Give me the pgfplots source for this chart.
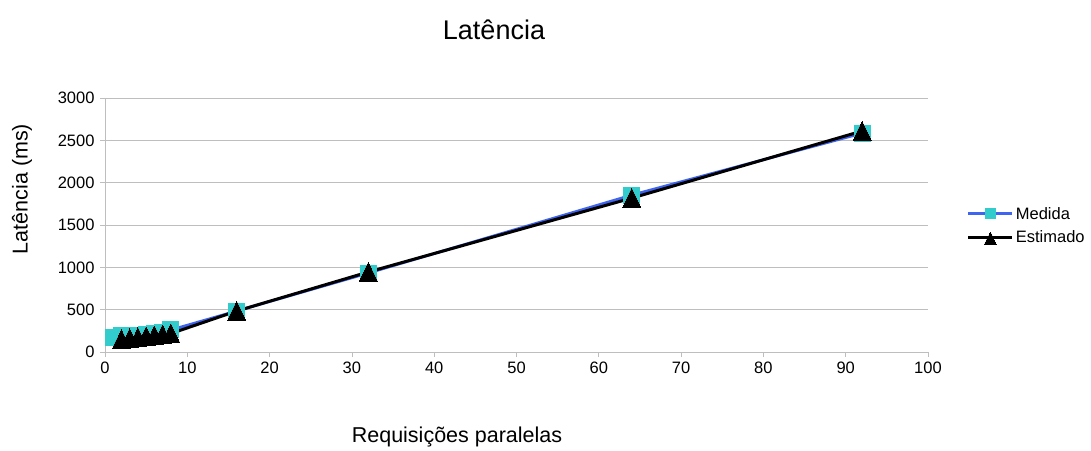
\documentclass[border=0pt]{standalone}
\usepackage{pgfplots}
\pgfplotsset{compat=1.18}
\usepackage{fontspec}
\setmainfont{Liberation Sans}
\definecolor{medline}{HTML}{3F64F0}
\definecolor{medmark}{HTML}{33CCCC}
\definecolor{gridc}{HTML}{BEBEBE}
\begin{document}
\begin{tikzpicture}[x=1pt,y=1pt]
\path[use as bounding box] (-105,-98) rectangle (986,352);
\begin{axis}[
  at={(0,0)}, anchor=south west,
  scale only axis, width=823pt, height=254pt,
  xmin=0, xmax=100, ymin=0, ymax=3000,
  xtick={0,10,...,100}, ytick={0,500,...,3000},
  axis x line=bottom, axis y line=left,
  axis line style={gridc, -, line width=0.8pt},
  ymajorgrids, major grid style={gridc, line width=0.8pt},
  tick style={gridc, line width=0.8pt},
  major tick length=5pt,
  tick align=outside,
  ticklabel style={font=\fontsize{16.5}{19}\selectfont},
  /pgf/number format/assume math mode=true,
  scaled ticks=false,
  yticklabel style={/pgf/number format/1000 sep={}, xshift=-2pt},
  xticklabel style={yshift=-1pt},
  clip=false,
  legend style={at={(1.047,0.498)}, anchor=west, draw=none, fill=none,
    font=\fontsize{16.5}{19}\selectfont, row sep=6pt, inner sep=0pt},
  legend cell align=left,
  legend image code/.code={
    \draw[#1, every mark/.append style={scale=0.65}, mark repeat=2, mark phase=2] plot coordinates {(0pt,0pt) (22pt,0pt) (44pt,0pt)};},
]
\addplot[medline, line width=2.8pt, mark=square*, mark size=8pt,
  mark options={draw=medmark, fill=medmark, line width=0pt}]
coordinates {(1,175) (2,195) (3,198) (4,200) (5,205) (6,220) (7,230) (8,260) (16,484) (32,933) (64,1853) (92,2585)};
\addlegendentry{Medida}
\addplot[black, line width=3pt, mark=triangle*, mark size=10.4pt,
  mark options={fill=black, line width=0pt, yshift=-3pt, yscale=1.2}]
coordinates {(2,150) (3,161) (4,172) (5,183) (6,195) (7,206) (8,218) (16,484) (32,945) (64,1818) (92,2610)};
\addlegendentry{Estimado}
\end{axis}
\node[font=\fontsize{27}{30}\selectfont] at (389,322) {Latência};
\node[font=\fontsize{21.5}{24}\selectfont] at (352,-85) {Requisições paralelas};
\node[font=\fontsize{21.5}{24}\selectfont, rotate=90] at (-83,163) {Latência (ms)};
\end{tikzpicture}
\end{document}
